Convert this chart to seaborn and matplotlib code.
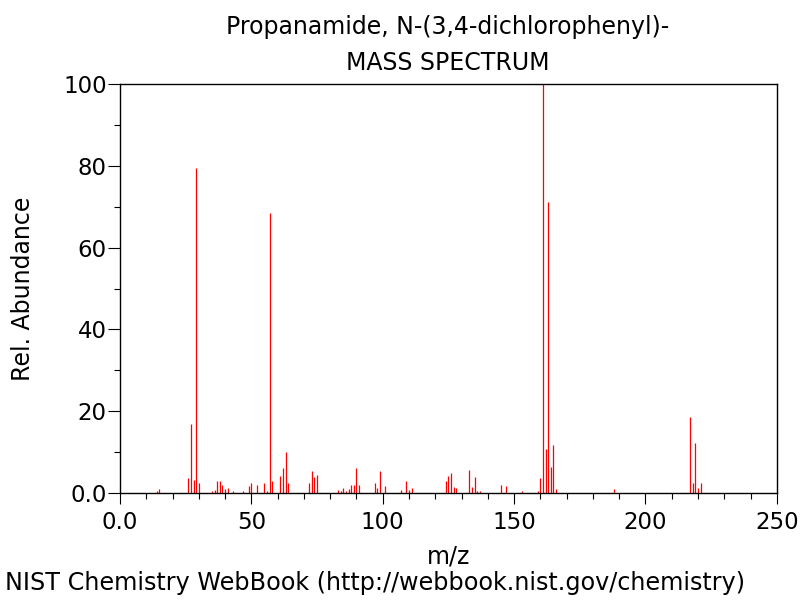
import matplotlib
matplotlib.use("Agg")
import matplotlib.pyplot as plt
from matplotlib.ticker import MultipleLocator, FixedFormatter, FixedLocator
import seaborn as sns

# Peak list (m/z, relative abundance)
mz = [14, 15, 26, 27, 28, 29, 30, 35, 36, 37, 38, 39, 40, 41, 43, 47, 49, 50,
      52, 55, 56, 57, 58, 61, 62, 63, 64, 72, 73, 74, 75, 83, 84, 85, 86, 87,
      88, 89, 90, 91, 97, 98, 99, 101, 107, 109, 110, 111, 124, 125, 126, 127,
      128, 133, 134, 135, 136, 137, 145, 147, 153, 159, 160, 161, 162, 163,
      164, 165, 166, 188, 217, 218, 219, 220, 221]
abundance = [0.4, 1.0, 3.6, 16.8, 3.1, 79.5, 2.4, 0.3, 0.6, 2.8, 2.8, 1.8, 0.8,
             1.1, 0.3, 0.3, 1.6, 2.4, 1.8, 2.4, 0.3, 68.5, 2.9, 4.2, 6.1, 10.0,
             2.4, 2.4, 5.3, 3.8, 4.3, 0.6, 0.4, 1.1, 0.4, 0.8, 2.0, 1.8, 6.0,
             1.8, 2.5, 1.1, 5.3, 1.6, 0.6, 2.8, 0.6, 1.1, 2.8, 4.0, 4.8, 1.3,
             1.1, 5.5, 1.3, 3.8, 0.4, 0.4, 2.0, 1.6, 0.4, 0.4, 3.5, 100.0, 10.6,
             71.3, 6.2, 11.8, 0.8, 0.8, 18.6, 2.4, 12.2, 1.1, 2.4]

x_ticks = [0, 50, 100, 150, 200, 250]
x_labels = ["0.0", "50", "100", "150", "200", "250"]
y_ticks = [0, 20, 40, 60, 80, 100]
y_labels = ["0.0", "20", "40", "60", "80", "100"]

sns.set_style("ticks")
plt.rcParams["font.family"] = ["DejaVu Sans"]
plt.rcParams["text.color"] = "black"
plt.rcParams["axes.labelcolor"] = "black"

fig = plt.figure(figsize=(8, 6), dpi=100)
ax = fig.add_axes([0.15, 0.1788, 0.821, 0.6807])

ax.vlines(mz, 0, abundance, colors="red", linewidth=0.9)

ax.set_xlim(0, 250)
ax.set_ylim(0, 100)

ax.xaxis.set_major_locator(FixedLocator(x_ticks))
ax.xaxis.set_major_formatter(FixedFormatter(x_labels))
ax.xaxis.set_minor_locator(MultipleLocator(10))
ax.yaxis.set_major_locator(FixedLocator(y_ticks))
ax.yaxis.set_major_formatter(FixedFormatter(y_labels))
ax.yaxis.set_minor_locator(MultipleLocator(10))

ax.tick_params(axis="x", which="major", direction="out", length=8, width=0.8,
               labelsize=16.5, pad=5, colors="black")
ax.tick_params(axis="x", which="minor", direction="out", length=4.3, width=0.8,
               colors="black")
ax.tick_params(axis="y", which="major", direction="out", length=8.6, width=0.8,
               labelsize=16.5, pad=1, colors="black")
ax.tick_params(axis="y", which="minor", direction="out", length=4.3, width=0.8,
               colors="black")
ax.tick_params(top=False, right=False, which="both")

for side in ["top", "right", "bottom", "left"]:
    ax.spines[side].set_visible(True)
    ax.spines[side].set_linewidth(1.0)
    ax.spines[side].set_color("black")

ax.set_xlabel("m/z", fontsize=17, labelpad=8)
ax.set_ylabel("Rel. Abundance", fontsize=17, labelpad=20)

fig.text(0.56, 0.955, "Propanamide, N-(3,4-dichlorophenyl)-", ha="center",
         va="center", fontsize=17)
fig.text(0.56, 0.895, "MASS SPECTRUM", ha="center", va="center", fontsize=17)
fig.text(0.006, 0.028, "NIST Chemistry WebBook (http://webbook.nist.gov/chemistry)",
         ha="left", va="center", fontsize=17.2)

fig.savefig("out.png", dpi=100)
